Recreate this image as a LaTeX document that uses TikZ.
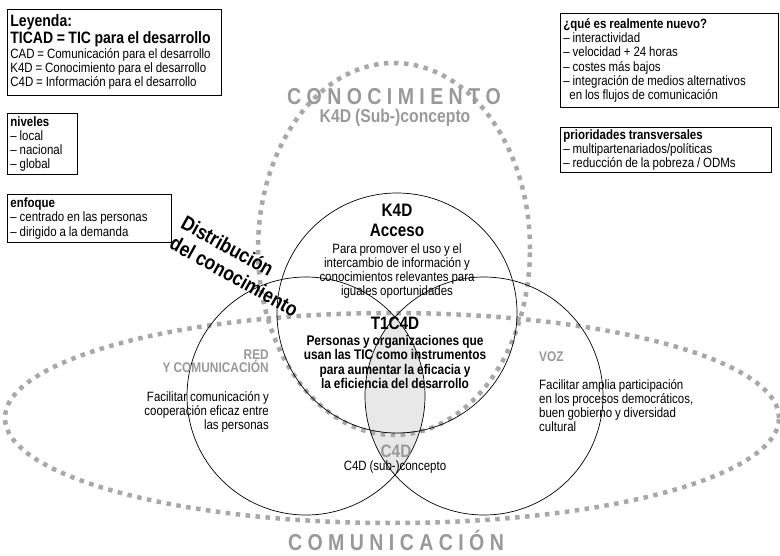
\documentclass[tikz,border=0pt]{standalone}
\usepackage{fontspec}
\setmainfont{Liberation Sans}[FakeStretch=0.85, WordSpace=0.9]
\usepackage{xcolor}
\usepackage{tikz}
\definecolor{dotgray}{gray}{0.66}
\definecolor{labelgray}{gray}{0.6}
\definecolor{lensgray}{gray}{0.91}
\newcommand{\ltrsp}{\hspace{5.4pt}}

\begin{document}
\begin{tikzpicture}[
    x=1pt, y=-1pt,
    infobox/.style={draw, line width=0.8pt, anchor=north west, align=flush left, inner xsep=3pt, inner ysep=2pt, font=\fontsize{13.5}{14.2}\selectfont},
    ring/.style={line width=0.7pt},
    dotline/.style={draw=dotgray, line width=4.5pt, dash pattern=on 4.5pt off 5.5pt},
    title/.style={inner sep=0pt, align=center, font=\fontsize{18}{20}\selectfont\bfseries},
    body/.style={inner sep=0pt, align=center, font=\fontsize{13.5}{14}\selectfont},
    graylabel/.style={inner sep=0pt, text=labelgray, font=\fontsize{14}{13}\selectfont\bfseries}
]
\useasboundingbox (0,0) rectangle (780,555);

% Centres of the three circles
\coordinate (ctop) at (397,313);
\coordinate (cleft) at (306,396);
\coordinate (cright) at (484,396);

% Shaded lens
\begin{scope}
\clip (cleft) circle (119pt);
\fill[lensgray] (cright) circle (119pt);
\end{scope}

% Dotted areas
\draw[dotline] (394,249) ellipse [x radius=136pt, y radius=186pt];
\draw[dotline] (392,418) ellipse [x radius=387pt, y radius=105pt];

% Circles
\draw[ring] (ctop) circle (120pt);
\draw[ring] (cleft) circle (119pt);
\draw[ring] (cright) circle (119pt);

% Boxes on the left
\node[infobox, text width=208pt, minimum height=86pt] (legend) at (7,9) {{\fontsize{16.5}{16}\selectfont\bfseries Leyenda:\\[0pt] TICAD = TIC para el desarrollo}\\[1pt] CAD = Comunicación para el desarrollo\\K4D = Conocimiento para el desarrollo\\C4D = Información para el desarrollo};
\node[infobox, text width=64pt, minimum height=61pt] (levels) at (7,113) {\textbf{niveles}\\– local\\– nacional\\– global};
\node[infobox, text width=158pt, minimum height=48pt] (focus) at (7,194) {\textbf{enfoque}\\– centrado en las personas\\– dirigido a la demanda};

% Boxes on the right
\node[infobox, text width=212pt, minimum height=94pt] (newbox) at (560,13) {\textbf{¿qué es realmente nuevo?}\\– interactividad\\– velocidad + 24 horas\\– costes más bajos\\– integración de medios alternativos\\\hspace*{6pt}en los flujos de comunicación};
\node[infobox, text width=205pt, minimum height=45pt] (priobox) at (560,127) {\textbf{prioridades transversales}\\– multipartenariados/políticas\\– reducción de la pobreza / ODMs};

% Gray headings
\node[inner sep=0pt, text=labelgray, font=\fontsize{23}{24}\selectfont\bfseries] (conoc) at (394,97) {C\ltrsp O\ltrsp N\ltrsp O\ltrsp C\ltrsp I\ltrsp M\ltrsp I\ltrsp E\ltrsp N\ltrsp T\ltrsp O};
\node[inner sep=0pt, text=labelgray, font=\fontsize{18.5}{20}\selectfont\bfseries] (conocsub) at (395,118) {K4D (Sub-)concepto};
\node[inner sep=0pt, text=labelgray, font=\fontsize{23}{24}\selectfont\bfseries] (comun) at (396,540) {C\ltrsp O\ltrsp M\ltrsp U\ltrsp N\ltrsp I\ltrsp C\ltrsp A\ltrsp C\ltrsp I\ltrsp Ó\ltrsp N};

% Rotated label
\node[inner sep=0pt, align=left, rotate=-29, font=\fontsize{20.5}{23}\selectfont\bfseries] (distrib) at (240,266) {Distribución\\del conocimiento};

% Top circle
\node[title] (k4d) at (397,220) {K4D\\Acceso};
\node[body] (k4dtext) at (397,271) {Para promover el uso y el\\intercambio de información y\\conocimientos relevantes para\\iguales oportunidades};

% Centre
\node[title] (t1c4d) at (395,323) {T1C4D};
\node[body, font=\fontsize{14}{14.5}\selectfont\bfseries] (t1c4dtext) at (395,362) {Personas y organizaciones que\\usan las TIC como instrumentos\\para aumentar la eficacia y\\la eficiencia del desarrollo};
\node[title, text=labelgray] (c4d) at (396,451) {C4D};
\node[body] (c4dtext) at (395,467) {C4D (sub-)concepto};

% Left circle
\node[graylabel, align=right, anchor=east] (red) at (269,361) {RED\\Y COMUNICACIÓN};
\node[body, align=right, anchor=east] (redtext) at (269,412) {Facilitar comunicación y\\cooperación eficaz entre\\las personas};

% Right circle
\node[graylabel, anchor=west] (voz) at (539,357) {VOZ};
\node[body, align=left, anchor=west] (voztext) at (539,406) {Facilitar amplia participación\\en los procesos democráticos,\\buen gobierno y diversidad\\cultural};

\end{tikzpicture}
\end{document}
